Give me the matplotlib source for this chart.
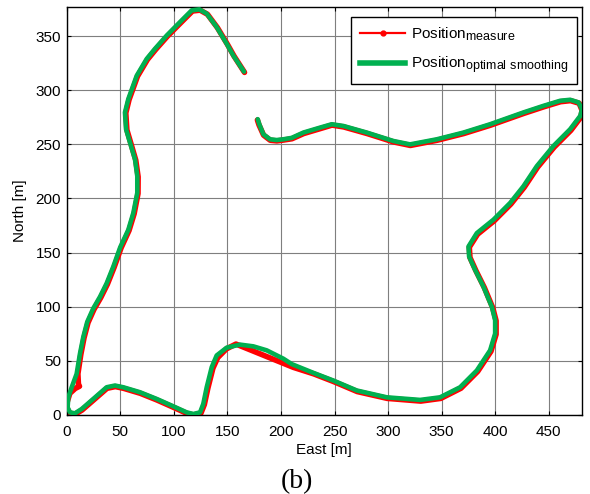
import matplotlib
matplotlib.use("Agg")
import matplotlib.pyplot as plt
from matplotlib.lines import Line2D
try:
    import matplotlib._mathtext as _mt
    _mt.SHRINK_FACTOR = 0.82
except Exception:
    pass

plt.rcParams['font.family'] = ['Liberation Sans', 'DejaVu Sans']
plt.rcParams['mathtext.fontset'] = 'custom'
plt.rcParams['mathtext.rm'] = 'Liberation Sans'

# Smoothed trajectory (East, North) [m]
smooth_east = [178.3, 179.8, 183.6, 189.8, 196.0, 202.2, 210.0, 220.9, 236.5, 247.4, 258.3, 280.1, 305.0, 320.5, 345.5, 370.3, 395.2, 426.3, 445.0, 460.6, 469.9, 477.7, 481.0, 479.3, 469.9, 454.3, 438.8, 426.3, 413.9, 398.3, 382.8, 375.0, 375.6, 381.2, 389.0, 396.8, 399.9, 399.9, 395.2, 382.8, 367.2, 348.5, 329.9, 298.8, 270.8, 248.9, 230.0, 210.0, 202.2, 186.7, 174.2, 161.8, 149.4, 140.0, 135.4, 130.7, 127.5, 124.5, 118.2, 112.0, 99.5, 84.0, 68.4, 52.8, 45.1, 37.3, 24.8, 14.0, 7.7, 3.1, 0.9, 1.5, 4.7, 9.3, 12.4, 15.5, 19.2, 24.8, 31.1, 37.3, 43.5, 50.0, 57.5, 62.2, 65.9, 65.9, 63.8, 59.1, 55.4, 54.4, 57.5, 65.4, 74.7, 82.4, 93.4, 105.8, 116.7, 123.8, 130.7, 140.0, 149.4, 155.6, 165.5]
smooth_north = [273.3, 268.6, 259.3, 254.7, 254.0, 254.7, 256.0, 260.9, 265.5, 268.6, 267.0, 260.9, 253.1, 250.0, 254.7, 260.9, 268.6, 279.5, 285.6, 290.3, 291.2, 288.8, 282.5, 276.3, 264.0, 248.5, 229.9, 211.3, 195.9, 180.4, 168.0, 155.6, 146.3, 134.0, 118.5, 99.9, 87.6, 75.2, 59.7, 41.1, 25.6, 16.3, 13.9, 16.3, 22.6, 31.8, 39.0, 47.0, 52.0, 59.7, 63.4, 65.0, 62.2, 55.0, 44.2, 25.6, 10.2, 2.4, 0.9, 2.4, 8.0, 14.8, 21.0, 25.6, 27.2, 25.6, 14.8, 5.5, 1.5, 2.4, 7.0, 16.3, 25.6, 38.0, 56.6, 72.0, 86.0, 98.4, 109.2, 121.6, 137.0, 155.0, 171.0, 186.6, 205.2, 220.6, 236.0, 251.6, 264.0, 279.5, 291.8, 313.5, 329.0, 338.3, 350.6, 363.0, 373.8, 374.7, 370.8, 358.4, 342.9, 332.0, 317.2]

# Measured trajectory (East, North) [m]
meas_east = [178.0, 179.5, 183.8, 190.0, 196.2, 202.5, 210.3, 221.2, 236.8, 247.6, 258.6, 280.4, 305.3, 320.8, 345.8, 370.6, 395.5, 426.6, 445.3, 460.9, 470.2, 478.3, 481.0, 480.0, 470.6, 455.0, 439.5, 427.0, 414.6, 399.0, 383.5, 375.8, 376.4, 382.0, 389.8, 397.6, 400.8, 400.8, 396.0, 383.6, 368.0, 349.2, 330.5, 299.2, 271.2, 249.3, 230.5, 211.5, 158.0, 149.0, 141.0, 136.5, 131.8, 128.5, 125.3, 118.5, 112.3, 99.8, 84.3, 68.7, 53.1, 45.4, 37.6, 25.1, 14.3, 8.0, 3.0, 0.3, 0.5, 3.0, 8.0, 12.0, 11.0, 10.5, 13.2, 16.2, 19.9, 25.5, 31.8, 38.0, 44.2, 50.8, 58.2, 63.0, 66.6, 66.7, 64.5, 59.9, 56.2, 55.2, 58.2, 66.1, 75.4, 83.1, 94.1, 106.5, 117.4, 124.5, 131.4, 140.7, 150.1, 156.3, 166.0]
meas_north = [272.5, 268.0, 258.5, 253.8, 253.2, 254.0, 255.2, 260.0, 264.6, 267.8, 266.1, 260.0, 252.2, 249.0, 253.8, 260.0, 267.7, 278.6, 284.7, 289.4, 290.4, 288.0, 281.5, 275.3, 263.0, 247.5, 228.9, 210.3, 194.9, 179.4, 167.0, 155.0, 145.5, 133.2, 117.7, 99.2, 87.0, 74.5, 58.8, 40.2, 24.7, 15.3, 12.8, 15.3, 21.6, 30.8, 38.0, 44.0, 65.5, 61.0, 53.0, 43.2, 24.8, 9.6, 1.6, 0.0, 1.4, 7.0, 13.8, 20.0, 24.6, 26.2, 24.6, 13.8, 4.5, 0.8, 1.5, 6.0, 12.0, 20.0, 24.5, 26.5, 28.0, 38.0, 55.8, 71.2, 85.2, 97.6, 108.4, 120.8, 136.2, 154.4, 170.4, 186.0, 204.6, 220.0, 235.4, 251.0, 263.4, 279.0, 291.2, 312.9, 328.4, 337.7, 350.0, 362.4, 373.2, 374.0, 370.2, 357.8, 342.3, 331.4, 316.5]

x_ticks = [0, 50, 100, 150, 200, 250, 300, 350, 400, 450]
y_ticks = [0, 50, 100, 150, 200, 250, 300, 350]

label_meas = r'Position$_{\mathregular{measure}}$'
label_smooth = r'Position$_{\mathregular{optimal\ smoothing}}$'

fig = plt.figure(figsize=(5.9, 4.94), dpi=100)
ax = fig.add_axes([0.113, 0.160, 0.8735, 0.826])

ax.plot(meas_east, meas_north, color='#ff0000', lw=4.0, solid_capstyle='round',
        solid_joinstyle='round', zorder=2)
ax.plot(smooth_east, smooth_north, color='#00b050', lw=3.3, solid_capstyle='round',
        solid_joinstyle='round', zorder=3)

ax.set_xlim(0, 481)
ax.set_ylim(0, 377)
ax.set_xticks(x_ticks)
ax.set_yticks(y_ticks)
ax.grid(True, color='#7f7f7f', lw=0.8)
ax.set_axisbelow(True)
ax.tick_params(direction='in', top=True, right=True, length=3, width=0.8,
               labelsize=11)
ax.tick_params(axis='x', pad=7)
ax.tick_params(axis='y', pad=4)
for s in ax.spines.values():
    s.set_linewidth(1.0)
ax.set_xlabel('East [m]', fontsize=11, labelpad=3)
ax.set_ylabel('North [m]', fontsize=11, labelpad=6)

handles = [Line2D([], [], color='#ff0000', lw=1.6, marker='.', ms=7),
           Line2D([], [], color='#00b050', lw=4.0)]
leg = ax.legend(handles, [label_meas, label_smooth], loc='upper right',
                bbox_to_anchor=(0.990, 0.975), borderaxespad=0,
                fontsize=11, frameon=True, fancybox=False, framealpha=1,
                edgecolor='black', handlelength=3.0, handletextpad=0.35,
                labelspacing=0.75, borderpad=0.55)
leg.get_frame().set_linewidth(1.0)

fig.text(0.503, 0.026, '(b)', ha='center', va='center', fontsize=20,
         family=['Liberation Serif', 'DejaVu Serif'])

fig.savefig('out.png', dpi=100)
